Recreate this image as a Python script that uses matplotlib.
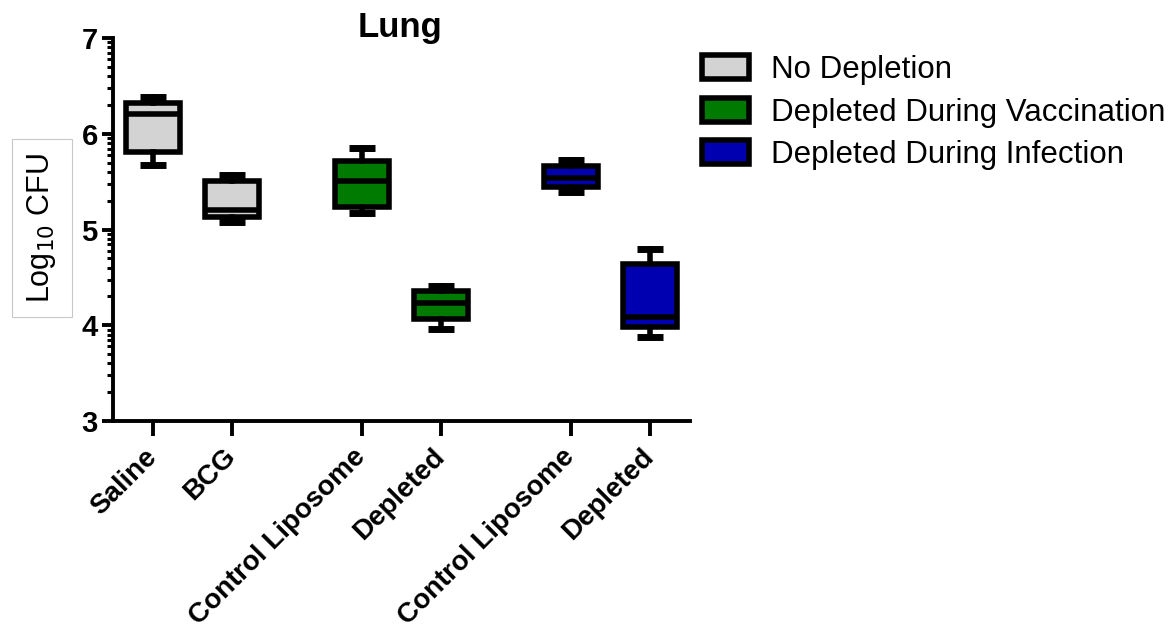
import matplotlib
matplotlib.use("Agg")
import matplotlib.pyplot as plt
import numpy as np
from matplotlib.patches import Patch

plt.rcParams['font.family'] = ['Liberation Sans', 'DejaVu Sans']

categories = ["Saline", "BCG", "Control Liposome", "Depleted", "Control Liposome", "Depleted"]
groups = ["No Depletion", "No Depletion", "Depleted During Vaccination", "Depleted During Vaccination",
          "Depleted During Infection", "Depleted During Infection"]
whisker_low = [5.67, 5.08, 5.17, 3.96, 5.39, 3.88]
q1 = [5.81, 5.13, 5.23, 4.07, 5.44, 3.98]
median = [6.21, 5.20, 5.51, 4.23, 5.54, 4.09]
q3 = [6.32, 5.51, 5.72, 4.36, 5.66, 4.64]
whisker_high = [6.38, 5.57, 5.85, 4.41, 5.73, 4.80]
legend_labels = ["No Depletion", "Depleted During Vaccination", "Depleted During Infection"]
group_colors = {"No Depletion": "#d3d3d3", "Depleted During Vaccination": "#007a00",
                "Depleted During Infection": "#0000b0"}
positions = [0, 1, 2.65, 3.65, 5.3, 6.3]

fig = plt.figure(figsize=(11.76, 6.34), dpi=100)
ax = fig.add_axes([0.0961, 0.336, 0.4906, 0.604])

stats = []
for i in range(len(categories)):
    stats.append(dict(whislo=whisker_low[i], q1=q1[i], med=median[i], q3=q3[i],
                      whishi=whisker_high[i], label=categories[i]))

lw = 4.0
bp = ax.bxp(stats, positions=positions, widths=0.68, patch_artist=True, showfliers=False,
            boxprops=dict(linewidth=lw, edgecolor='black'),
            medianprops=dict(linewidth=lw, color='black', solid_capstyle='butt'),
            whiskerprops=dict(linewidth=lw, color='black'),
            capprops=dict(linewidth=lw + 1, color='black', solid_capstyle='butt'),
            capwidths=0.33)
for patch, g in zip(bp['boxes'], groups):
    patch.set_facecolor(group_colors[g])
    patch.set_joinstyle('miter')

ax.set_xlim(-0.51, 6.81)
ax.set_ylim(3, 7)
ax.set_yticks([3, 4, 5, 6, 7])
minor = []
for d in range(3, 7):
    for k in range(2, 10):
        minor.append(d + np.log10(k))
ax.set_yticks(minor, minor=True)
ax.set_xticks(positions)
ax.set_xticklabels(categories, rotation=45, ha='right', va='center', rotation_mode='anchor',
                   fontsize=20, fontweight='bold')
for lab in ax.get_yticklabels():
    lab.set_fontsize(21)
    lab.set_fontweight('bold')

for s in ['top', 'right']:
    ax.spines[s].set_visible(False)
for s in ['left', 'bottom']:
    ax.spines[s].set_linewidth(2.8)
ax.tick_params(axis='y', which='major', length=8, width=2.8, pad=3)
ax.tick_params(axis='y', which='minor', length=4.5, width=2.2)
ax.tick_params(axis='x', which='major', length=11, width=2.8, pad=12)

fig.text(400 / 1176, 1 - 28 / 634, "Lung", fontsize=25, fontweight='bold', ha='center', va='center')

fig.text(42 / 1176, 1 - 228 / 634, r"Log$_{10}$ CFU", rotation=90, fontsize=22, ha='center', va='center',
         bbox=dict(boxstyle='square,pad=0.45', facecolor='white', edgecolor='#c8c8c8', linewidth=0.8))

handles = [Patch(facecolor=group_colors[g], edgecolor='black', linewidth=4.0) for g in legend_labels]
fig.legend(handles, legend_labels, loc='upper left', bbox_to_anchor=(702 / 1176, 1 - 55 / 634),
           frameon=False, borderpad=0, borderaxespad=0,
           fontsize=22.5, handlelength=1.5, handleheight=0.8, labelspacing=0.4, handletextpad=0.7)

fig.savefig("out.png", dpi=100)
